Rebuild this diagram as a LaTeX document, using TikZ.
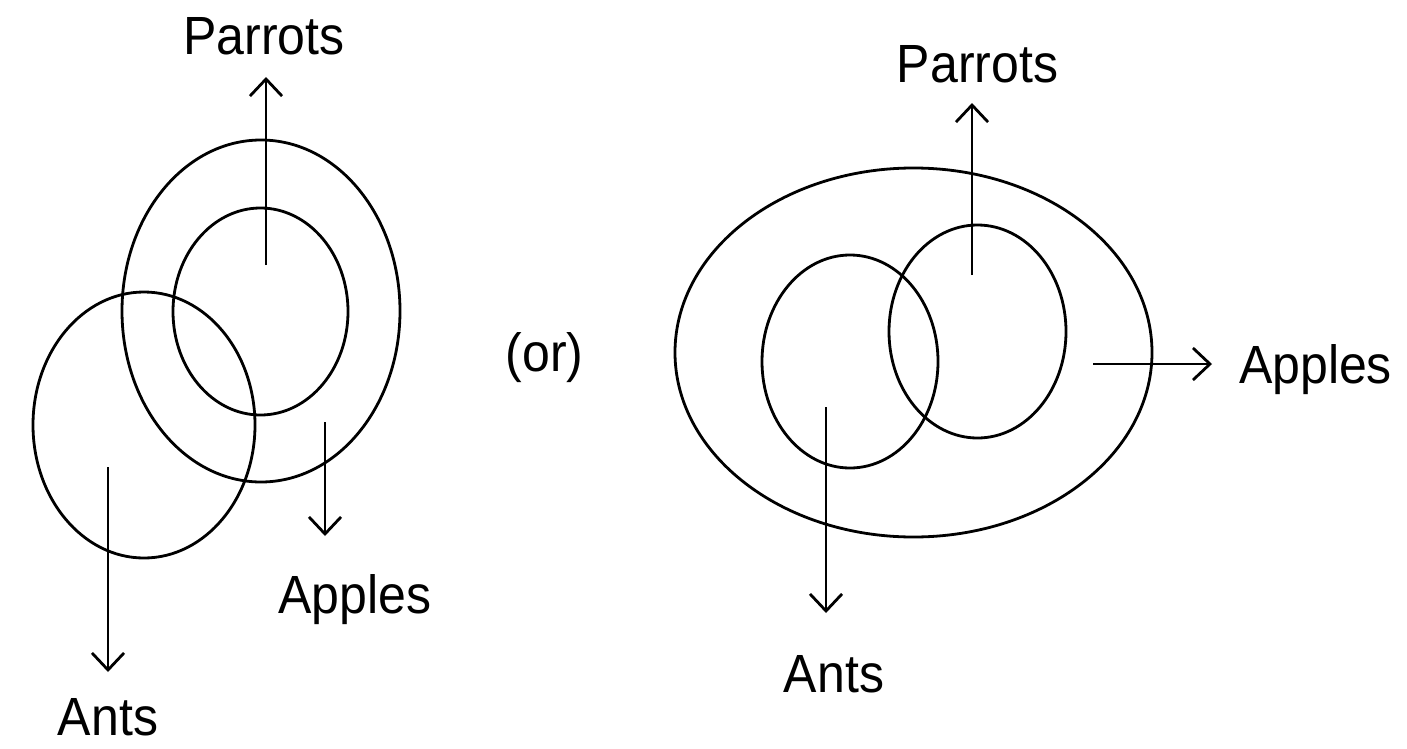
\documentclass[tikz,border=0pt]{standalone}
\usepackage{fontspec}
\setmainfont{Liberation Sans}
\usetikzlibrary{arrows.meta}
\tikzset{
  line/.style={line width=2.8bp, black},
  ring/.style={line width=2.8bp, black},
  pointer/.style={line, -{Straight Barb[length=17bp, width=32bp, line width=2.8bp]}},
  lbl/.style={inner sep=0pt, anchor=base, font=\fontsize{54}{60}\selectfont, xscale=0.93, transform shape}
}
\begin{document}
\begin{tikzpicture}[x=1bp, y=-1bp]
\useasboundingbox (0,0) rectangle (1407,748);
% ---------- left diagram ----------
\draw[ring] (261,311) ellipse [x radius=139bp, y radius=171bp];
\draw[ring] (260.5,311.5) ellipse [x radius=87.5bp, y radius=103.5bp];
\draw[ring] (144,425) ellipse [x radius=111bp, y radius=133bp];
\coordinate (lPs) at (266,265);
\coordinate (lPt) at (266,77);
\coordinate (lAps) at (325,422);
\coordinate (lApt) at (325,536);
\coordinate (lAns) at (108,467);
\coordinate (lAnt) at (108,672);
\node[lbl] (lP) at (264,55) {Parrots};
\node[lbl] (lAp) at (355,613) {Apples};
\node[lbl] (lAn) at (108,735) {Ants};
\draw[pointer] (lPs) -- (lPt);
\draw[pointer] (lAps) -- (lApt);
\draw[pointer] (lAns) -- (lAnt);
% ---------- or ----------
\node[lbl] (or) at (544.5,371) {(or)};
% ---------- right diagram ----------
\draw[ring] (913.5,352.5) ellipse [x radius=238.5bp, y radius=184.5bp];
\draw[ring] (850,361.5) ellipse [x radius=88bp, y radius=106.5bp];
\draw[ring] (977.5,331.5) ellipse [x radius=88.5bp, y radius=106.5bp];
\coordinate (rPs) at (972,275);
\coordinate (rPt) at (972,103);
\coordinate (rAps) at (1093,364);
\coordinate (rApt) at (1212,364);
\coordinate (rAns) at (826,407);
\coordinate (rAnt) at (826,613);
\node[lbl] (rP) at (977.5,82) {Parrots};
\node[lbl] (rAp) at (1315.5,383) {Apples};
\node[lbl] (rAn) at (834,692) {Ants};
\draw[pointer] (rPs) -- (rPt);
\draw[pointer] (rAps) -- (rApt);
\draw[pointer] (rAns) -- (rAnt);
\end{tikzpicture}
\end{document}
